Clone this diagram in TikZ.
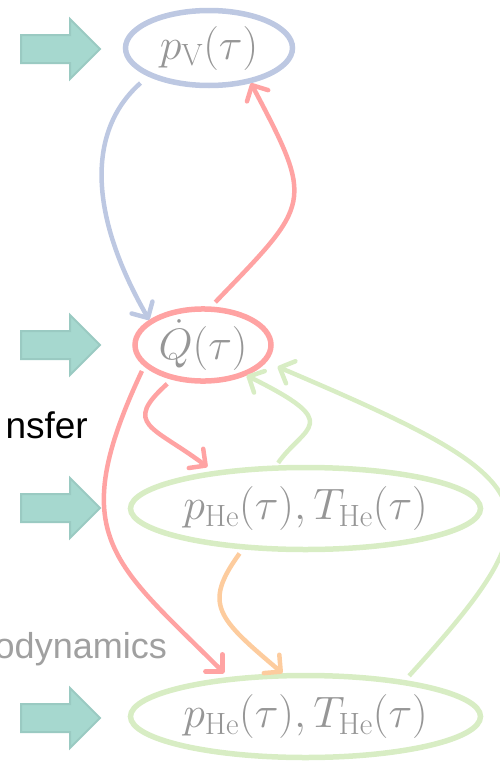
\RequirePackage{fix-cm}
\documentclass[tikz,border=0pt]{standalone}
\usepackage{fontspec}
\newfontfamily\labelfont{Liberation Sans}
\usepackage{tikz}
\usetikzlibrary{arrows.meta,positioning,shapes.geometric,shapes.arrows}

\definecolor{vblue}{RGB}{189,200,226}
\definecolor{qred}{RGB}{255,163,163}
\definecolor{hegreen}{RGB}{216,237,196}
\definecolor{floworange}{RGB}{253,204,158}
\definecolor{feedfill}{RGB}{166,216,207}
\definecolor{feededge}{RGB}{154,202,194}
\definecolor{mathgray}{RGB}{150,150,150}
\definecolor{notegray}{RGB}{160,160,160}

\begin{document}
\begin{tikzpicture}[
x=1pt, y=-1pt,
oval/.style={ellipse, draw, line width=5.5pt, inner sep=0pt, text=mathgray, font=\fontsize{44}{50}\selectfont},
feed/.style={single arrow, draw=feededge, fill=feedfill, line width=2pt, inner sep=13pt, single arrow head extend=16pt, minimum height=79pt, anchor=west},
note/.style={inner sep=0pt, anchor=base east},
arr/.style={-{Straight Barb[length=12pt,width=24pt,round]}, line width=4.5pt}
]
\useasboundingbox (0,0) rectangle (500,763);
\clip (0,0) rectangle (500,763);

% states
\node[oval, draw=vblue, minimum width=167pt, minimum height=75pt] (pv) at (209,48) {$p_{\mathrm{V}}(\tau)$};
\node[oval, draw=qred, minimum width=136pt, minimum height=65pt] (qdot) at (203,345) {$\dot{Q}(\tau)$};
\node[oval, draw=hegreen, minimum width=350pt, minimum height=82pt] (he1) at (305.5,508.5) {$p_{\mathrm{He}}(\tau),T_{\mathrm{He}}(\tau)$};
\node[oval, draw=hegreen, minimum width=350pt, minimum height=82pt] (he2) at (305.5,716.5) {$p_{\mathrm{He}}(\tau),T_{\mathrm{He}}(\tau)$};

% inputs on the left
\node[feed] (in1) at (20,49) {};
\node[feed] (in2) at (20,345) {};
\node[feed] (in3) at (20,508) {};
\node[feed] (in4) at (20,718) {};

% cut-off labels
\node[note, font=\labelfont\fontsize{37}{40}\selectfont] (heat) at (88,438) {nsfer};
\node[note, font=\labelfont\fontsize{36}{40}\selectfont, text=notegray] (thermo) at (167,658) {odynamics};

% couplings
\draw[arr, vblue, shorten <=10pt] (pv.205) .. controls +(-60,53) and +(-62,-108) .. (qdot.155);
\draw[arr, qred, shorten <=6pt] (qdot.78) .. controls +(100,-104) and +(64,121) .. (pv.-40);
\draw[arr, qred, shorten <=6pt, shorten >=7pt] (qdot.228) .. controls +(-50,45) and +(-60,-45) .. (he1.158);
\draw[arr, qred, shorten <=5pt, shorten >=6pt] (qdot.200) .. controls +(-80,170) and +(-115,-115) .. (he2.153);
\draw[arr, hegreen, shorten <=3pt] (he1.124) .. controls +(28,-40) and +(99,49) .. (qdot.325);
\draw[arr, hegreen, shorten <=6pt, shorten >=12pt] (he2.20) .. controls +(160,-176) and +(282,120) .. (qdot.345);
\draw[arr, floworange, shorten <=5pt] (he1.213) .. controls +(-40,55) and +(-65,-55) .. (he2.118);

\end{tikzpicture}
\end{document}
